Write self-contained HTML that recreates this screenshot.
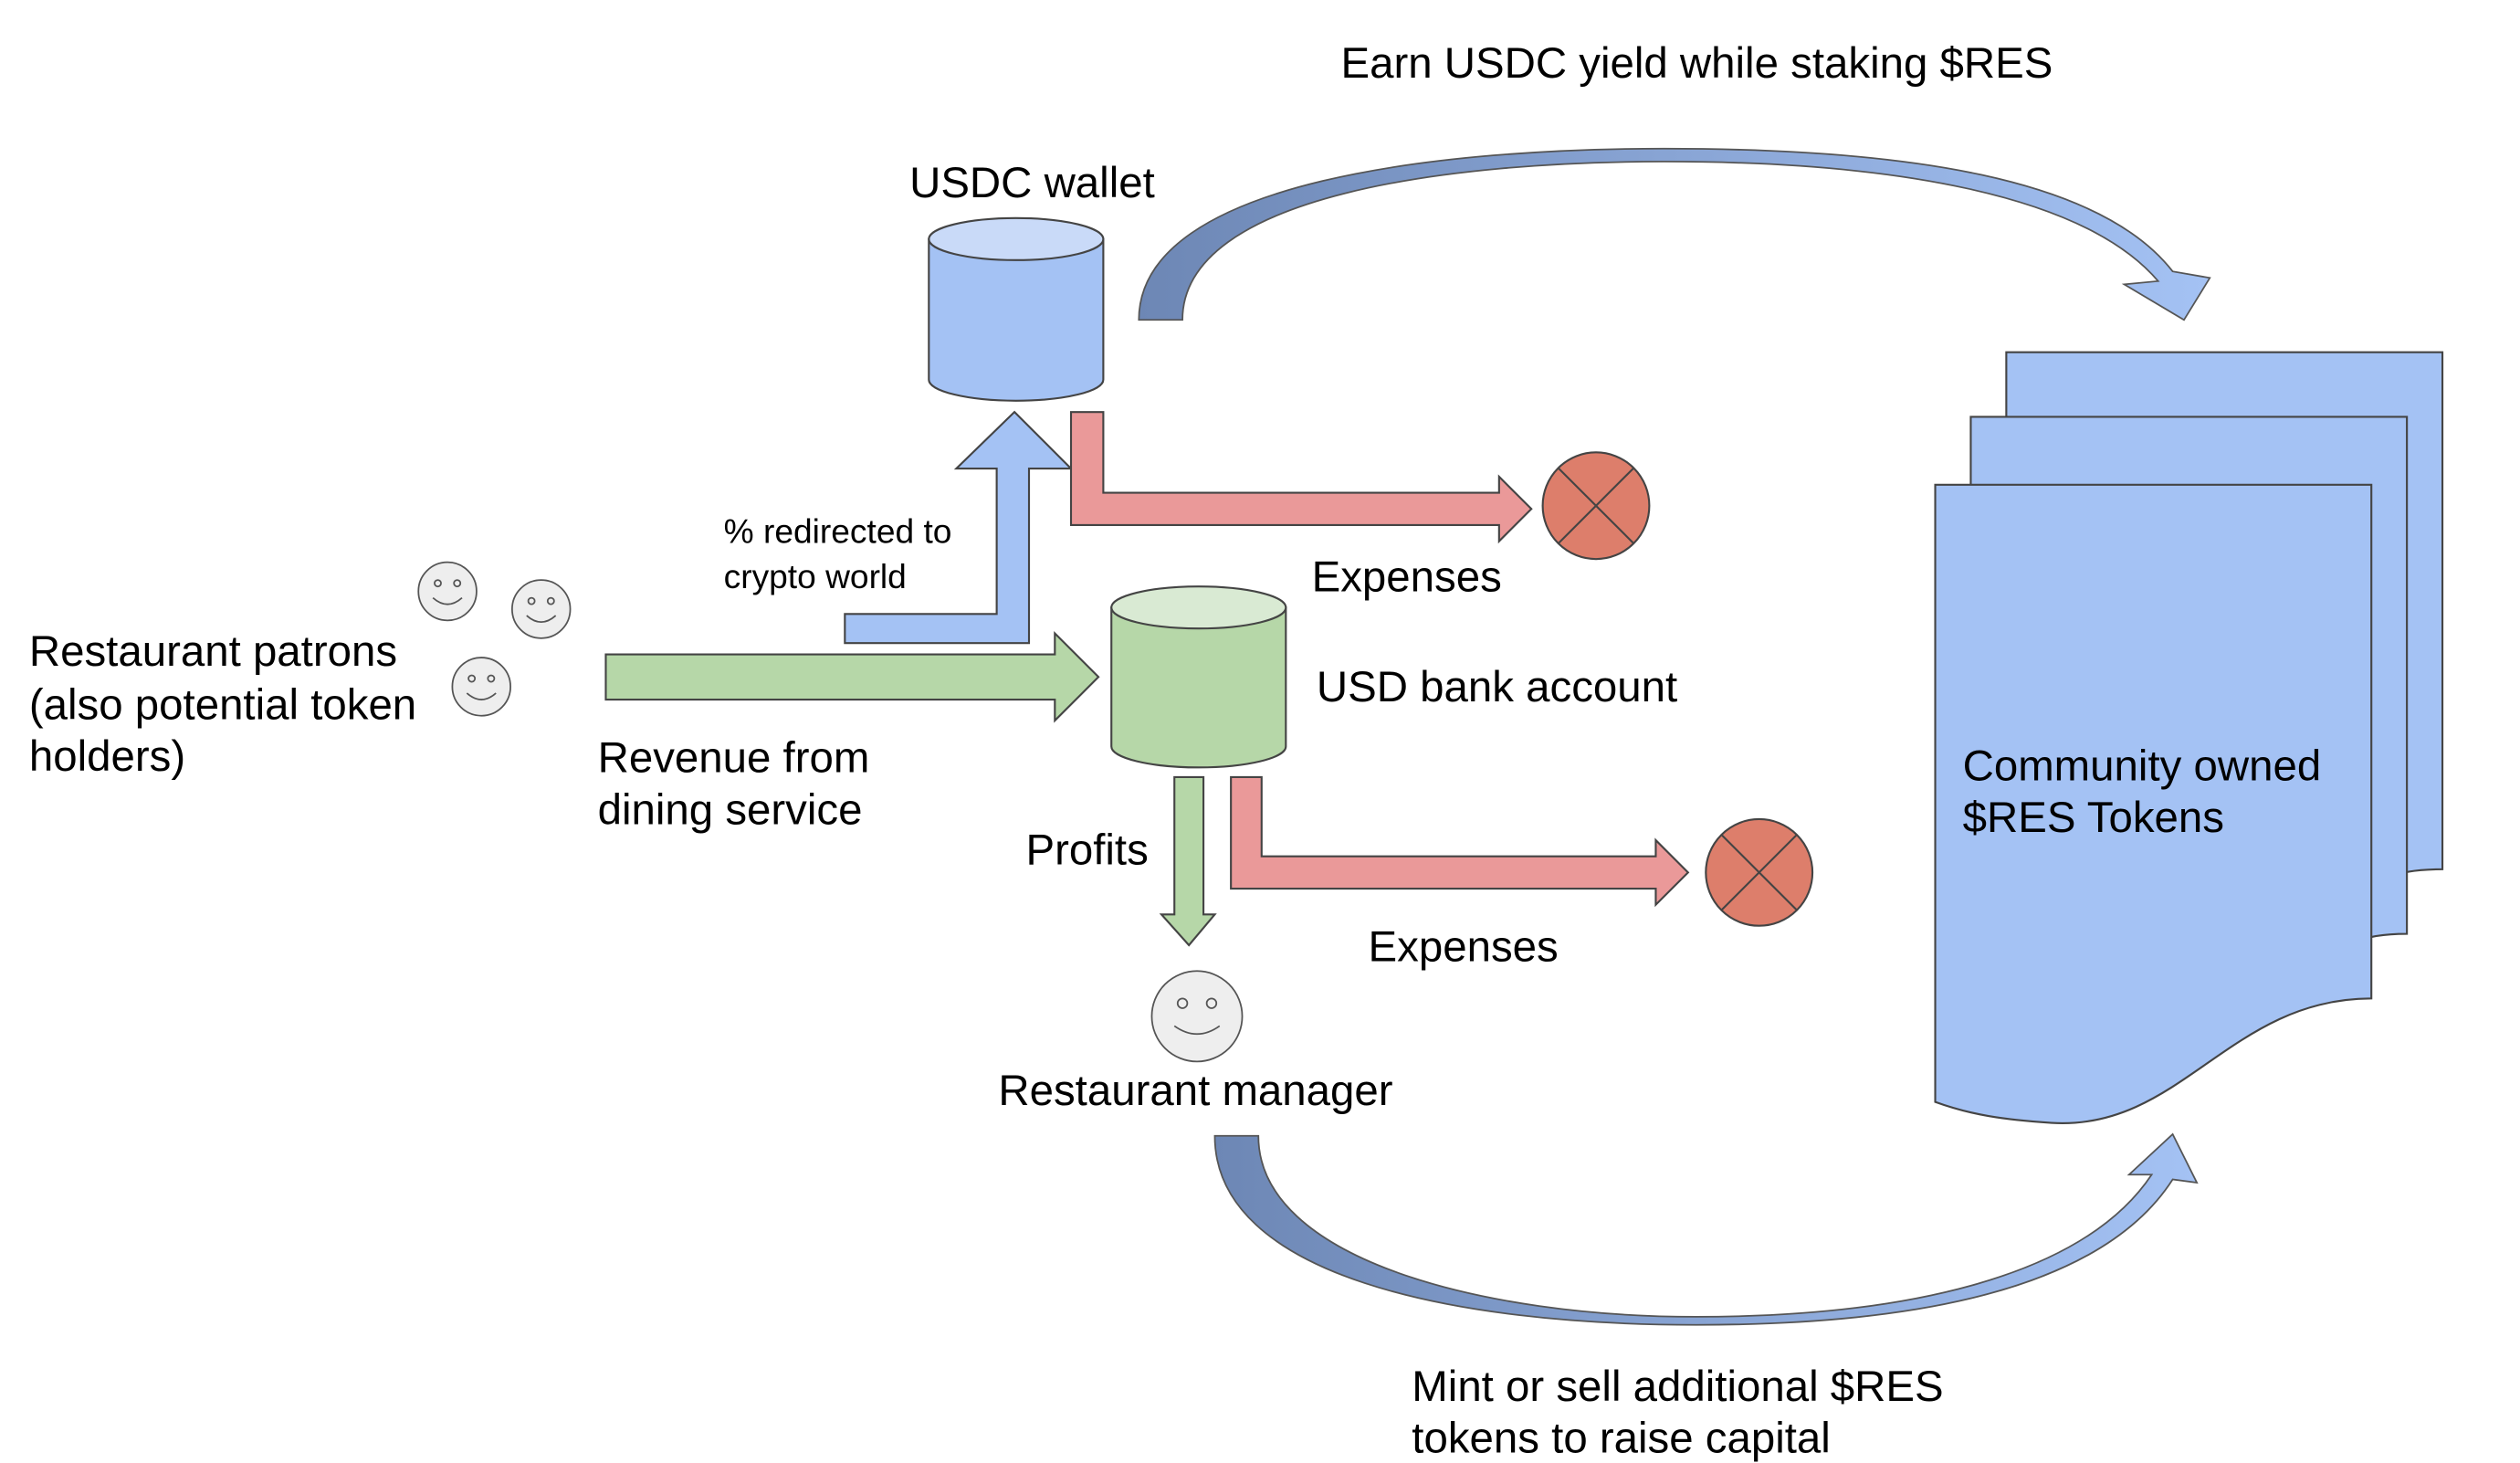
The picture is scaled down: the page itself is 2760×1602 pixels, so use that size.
<!DOCTYPE html>
<html><head><meta charset="utf-8"><style>
html,body{margin:0;padding:0;background:#fff;}
svg{display:block;}
text{font-family:"Liberation Sans",sans-serif;fill:#000;}
</style></head><body>
<svg width="2760" height="1602" viewBox="0 0 1560 905.5" xmlns="http://www.w3.org/2000/svg">
<defs>
<linearGradient id="g1" x1="0" y1="0" x2="1" y2="0">
<stop offset="0" stop-color="#6d87b5"/><stop offset="1" stop-color="#a4c2f4"/>
</linearGradient>
</defs>
<g font-size="26.8">
<text x="830" y="48">Earn USDC yield while staking $RES</text>
<text x="563" y="122">USDC wallet</text>
</g>
<path d="M705,198 C705,110 900,92 1030,92 C1180,92 1300,110 1345,168 L1368,172 L1352,198 L1315,176 L1336,174 C1290,120 1170,100 1030,100 C900,100 732,120 732,198 Z" fill="url(#g1)" stroke="#555" stroke-width="1"/>
<path d="M575,148 L575,235 A54,13 0 0 0 683,235 L683,148 Z" fill="#a4c2f4" stroke="#444" stroke-width="1.2"/>
<ellipse cx="629" cy="148" rx="54" ry="13" fill="#c9daf8" stroke="#444" stroke-width="1.2"/>
<path d="M1242,218 L1512,218 L1512,538 C1480,538 1470,545 1460,560 L1242,560 Z" fill="#a4c2f4" stroke="#444" stroke-width="1.2"/>
<path d="M1220,258 L1490,258 L1490,578 C1460,578 1450,585 1440,600 L1220,600 Z" fill="#a4c2f4" stroke="#444" stroke-width="1.2"/>
<path d="M1198,300 L1468,300 L1468,618 C1380,618 1350,700 1270,695 C1240,693 1220,690 1198,682 Z" fill="#a4c2f4" stroke="#444" stroke-width="1.2"/>
<g font-size="26.8">
<text x="1215" y="483">Community owned</text>
<text x="1215" y="515">$RES Tokens</text>
</g>
<polygon points="523,380 617,380 617,290 592,290 628,255 663,290 637,290 637,398 523,398" fill="#a4c2f4" stroke="#444" stroke-width="1.2"/>
<polygon points="663,255 683,255 683,305 928,305 928,295 948,315 928,335 928,325 663,325" fill="#ea9999" stroke="#444" stroke-width="1.2"/>
<circle cx="988" cy="313" r="33" fill="#dd7e6b" stroke="#444" stroke-width="1.2"/>
<line x1="965" y1="290" x2="1011" y2="336" stroke="#444" stroke-width="1.2"/>
<line x1="1011" y1="290" x2="965" y2="336" stroke="#444" stroke-width="1.2"/>
<text x="812" y="366" font-size="26.8">Expenses</text>
<text x="448" y="336" font-size="21">% redirected to</text>
<text x="448" y="364" font-size="21">crypto world</text>
<g fill="#eeeeee" stroke="#555" stroke-width="1">
<circle cx="277" cy="366" r="18"/><circle cx="335" cy="377" r="18"/><circle cx="298" cy="425" r="18"/><circle cx="741" cy="629" r="28"/>
</g>
<g fill="none" stroke="#555" stroke-width="1">
<circle cx="271" cy="361" r="2"/><circle cx="283" cy="361" r="2"/><path d="M268,370 Q277,378 286,370"/>
<circle cx="329" cy="372" r="2"/><circle cx="341" cy="372" r="2"/><path d="M326,381 Q335,389 344,381"/>
<circle cx="292" cy="420" r="2"/><circle cx="304" cy="420" r="2"/><path d="M289,429 Q298,437 307,429"/>
<circle cx="732" cy="621" r="3"/><circle cx="750" cy="621" r="3"/><path d="M727,635 Q741,645 755,635"/>
</g>
<g font-size="26.8">
<text x="18" y="412">Restaurant patrons</text>
<text x="18" y="445">(also potential token</text>
<text x="18" y="477">holders)</text>
</g>
<polygon points="375,405 653,405 653,392 680,419 653,446 653,433 375,433" fill="#b6d7a8" stroke="#444" stroke-width="1.2"/>
<path d="M688,376 L688,462 A54,13 0 0 0 796,462 L796,376 Z" fill="#b6d7a8" stroke="#444" stroke-width="1.2"/>
<ellipse cx="742" cy="376" rx="54" ry="13" fill="#d9ead3" stroke="#444" stroke-width="1.2"/>
<g font-size="26.8">
<text x="815" y="434">USD bank account</text>
<text x="370" y="478">Revenue from</text>
<text x="370" y="510">dining service</text>
</g>
<polygon points="727,481 745,481 745,566 752,566 736,585 719,566 727,566" fill="#b6d7a8" stroke="#444" stroke-width="1.2"/>
<text x="635" y="535" font-size="26.8">Profits</text>
<polygon points="762,481 781,481 781,530 1025,530 1025,520 1045,540 1025,560 1025,550 762,550" fill="#ea9999" stroke="#444" stroke-width="1.2"/>
<circle cx="1089" cy="540" r="33" fill="#dd7e6b" stroke="#444" stroke-width="1.2"/>
<line x1="1066" y1="517" x2="1112" y2="563" stroke="#444" stroke-width="1.2"/>
<line x1="1112" y1="517" x2="1066" y2="563" stroke="#444" stroke-width="1.2"/>
<g font-size="26.8">
<text x="847" y="595">Expenses</text>
<text x="618" y="684">Restaurant manager</text>
</g>
<path d="M752,703 L779,703 C779,780 920,815 1050,815 C1180,815 1290,790 1332,727 L1318,727 L1345,702 L1360,732 L1345,730 C1300,800 1180,820 1050,820 C900,820 752,790 752,703 Z" fill="url(#g1)" stroke="#555" stroke-width="1"/>
<g font-size="26.8">
<text x="874" y="867">Mint or sell additional $RES</text>
<text x="874" y="899">tokens to raise capital</text>
</g>
</svg>
</body></html>
